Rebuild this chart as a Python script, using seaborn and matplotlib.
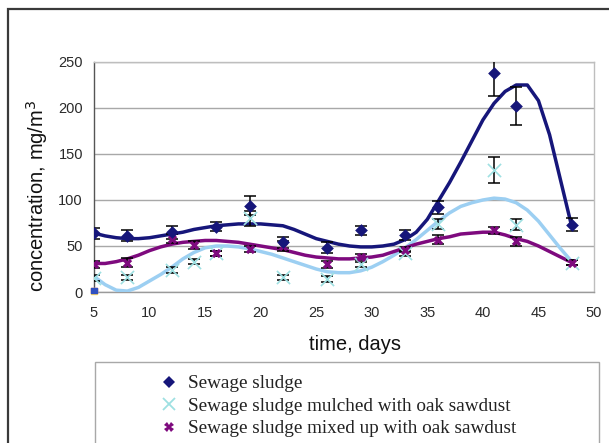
import matplotlib
matplotlib.use("Agg")
import matplotlib.pyplot as plt
from matplotlib.patches import Rectangle
from matplotlib.lines import Line2D
import seaborn as sns
import pandas as pd

# Measured concentrations (mg/m3) with standard deviations
sludge_days = [5, 8, 12, 16, 19, 22, 26, 29, 33, 36, 41, 43, 48]
sludge = [64, 61, 65, 71, 94, 54, 48, 67, 62, 92, 238, 202, 73]
sludge_err = [6, 6, 7, 5, 10, 6, 6, 5, 5, 7, 25, 21, 7]

mulched_days = [5, 8, 12, 14, 16, 19, 22, 26, 29, 33, 36, 41, 43, 48]
mulched = [15, 16, 24, 33, 42, 80, 16, 14, 30, 42, 74, 133, 73, 32]
mulched_err = [3, 3, 3, 3, 3, 8, 3, 3, 3, 3, 5, 14, 6, 3]

mixed_days = [5, 8, 12, 14, 16, 19, 22, 26, 29, 33, 36, 41, 43, 48]
mixed = [30, 32, 58, 51, 42, 47, 50, 30, 38, 46, 57, 67, 55, 32]
mixed_err = [4, 5, 5, 4, 3, 3, 5, 4, 3, 3, 5, 4, 5, 3]

# Trend curves, one value per day
trend_days = list(range(5, 49))
sludge_trend = [64, 61, 59, 58, 58, 59, 61, 63, 65, 68, 70, 72, 73, 74, 74, 74,
                73, 72, 68, 63, 58, 55, 52, 50, 49, 49, 50, 52, 57, 65, 79, 99,
                119, 141, 164, 187, 205, 218, 225, 225, 208, 171, 121, 71]
mulched_trend = [17, 8, 2, 1, 5, 12, 19, 27, 36, 43, 48, 50, 50, 49, 47, 44,
                 41, 37, 33, 29, 25, 22, 21, 21, 23, 27, 33, 40, 48, 57, 67, 77,
                 86, 93, 97, 100, 102, 101, 97, 89, 77, 62, 47, 33]
mixed_trend = [31, 31, 33, 36, 40, 45, 49, 52, 54, 55, 56, 56, 55, 54, 52, 50,
               48, 46, 43, 40, 38, 37, 36, 36, 37, 38, 40, 44, 48, 52, 55, 58,
               60, 63, 64, 65, 65, 62, 58, 55, 50, 44, 38, 32]

# Unlabelled control readings sitting at the origin
control_days = [5, 5, 5]
control = [1, 2, 1.5]
control_colors = ["#FFE650", "#F080C0", "#3050C0"]

labels = ["Sewage sludge",
          "Sewage sludge mulched with oak sawdust",
          "Sewage sludge mixed up with oak sawdust"]
x_ticks = [5, 10, 15, 20, 25, 30, 35, 40, 45, 50]
y_ticks = [0, 50, 100, 150, 200, 250]

NAVY = "#16167A"
SKY = "#9CCFF2"
CYAN = "#9EE0E2"
PURPLE = "#7E0A7E"

sns.set_theme(style="white")
plt.rcParams["font.family"] = ["Liberation Sans", "DejaVu Sans"]

fig = plt.figure(figsize=(6.09, 4.43), dpi=100)
W, H = 609, 443
ax = fig.add_axes([94 / W, 1 - 292 / H, 500 / W, 230 / H])

# Outer chart frame
fig.patches.append(Rectangle((8 / W, -0.2), 1.2, 1 - 9 / H + 0.2,
                             transform=fig.transFigure, fill=False,
                             edgecolor="#3A3A3A", linewidth=1.6, zorder=0))

trend = pd.DataFrame({"day": trend_days * 3,
                      "value": sludge_trend + mulched_trend + mixed_trend,
                      "series": [labels[0]] * len(trend_days)
                      + [labels[1]] * len(trend_days)
                      + [labels[2]] * len(trend_days)})
sns.lineplot(data=trend, x="day", y="value", hue="series",
             palette=[NAVY, SKY, PURPLE], linewidth=2.5, legend=False,
             ax=ax, zorder=3)

# Error bars
ebkw = dict(fmt="none", ecolor="black", elinewidth=1.1, capsize=4,
            capthick=1.1, zorder=4)
ax.errorbar(sludge_days, sludge, yerr=sludge_err, **ebkw)
ax.errorbar(mulched_days, mulched, yerr=mulched_err, **ebkw)
ax.errorbar(mixed_days, mixed, yerr=mixed_err, **ebkw)

# Markers
sns.scatterplot(x=mulched_days, y=mulched, marker="x", s=90, color=CYAN,
                linewidth=1.2, ax=ax, zorder=5)
sns.scatterplot(x=mixed_days, y=mixed, marker="X", s=45, color=PURPLE,
                linewidth=0, ax=ax, zorder=6)
sns.scatterplot(x=sludge_days, y=sludge, marker="D", s=42, color=NAVY,
                linewidth=0, ax=ax, zorder=7)
ax.scatter(control_days, control, marker="s", s=14, c=control_colors,
           zorder=8, clip_on=False)

ax.set_xlim(5, 50)
ax.set_ylim(0, 250)
ax.set_xticks(x_ticks)
ax.set_yticks(y_ticks)
ax.yaxis.grid(True, color="#A8A8A8", linewidth=1.0)
ax.xaxis.grid(False)
for side in ["top", "right"]:
    ax.spines[side].set_color("#BEBEBE")
    ax.spines[side].set_linewidth(1.0)
ax.spines["left"].set_color("#555555")
ax.spines["bottom"].set_color("#9A9A9A")
for side in ["left", "bottom"]:
    ax.spines[side].set_linewidth(1.0)
ax.tick_params(axis="both", direction="out", length=4, width=1,
               color="#777777", labelsize=10.5, labelcolor="#2A2A2A")
ax.tick_params(axis="x", pad=6)
ax.tick_params(axis="y", pad=4)

ax.set_xlabel("time, days", fontsize=14.5, color="#111111")
ax.set_ylabel("concentration, mg/m$^3$", fontsize=14.5, color="#111111")
ax.xaxis.set_label_coords(0.522, -0.185)
ax.yaxis.set_label_coords(-0.088, 0.42)

# Legend panel
fig.patches.append(Rectangle((95 / W, -0.2), 504 / W, 1 - 362 / H + 0.2,
                             transform=fig.transFigure, facecolor="white",
                             edgecolor="#A8A8A8", linewidth=1.0, zorder=1))
handles = [
    Line2D([], [], linestyle="none", marker="D", markersize=6.5,
           markerfacecolor=NAVY, markeredgewidth=0),
    Line2D([], [], linestyle="none", marker="x", markersize=8,
           markeredgecolor=CYAN, markeredgewidth=1.3),
    Line2D([], [], linestyle="none", marker="X", markersize=7,
           markerfacecolor=PURPLE, markeredgewidth=0),
]
leg = fig.legend(handles, labels, loc="upper left",
                 bbox_to_anchor=(159 / W, 1 - 375 / H), frameon=False,
                 prop={"family": ["Liberation Serif"], "size": 13.8},
                 handlelength=1.0, handletextpad=0.5, labelspacing=0.26,
                 borderpad=0, borderaxespad=0)
for t in leg.get_texts():
    t.set_color("#222222")

fig.savefig("out.png", dpi=100)
